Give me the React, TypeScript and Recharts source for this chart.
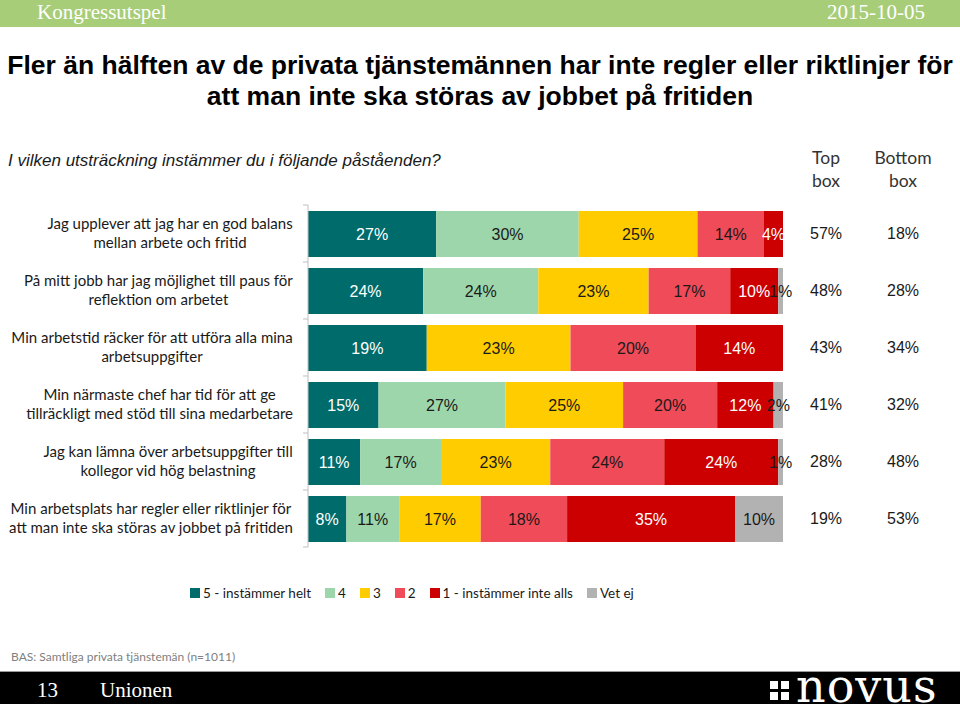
import React from "react";
import { BarChart, Bar, XAxis, YAxis, Legend, LabelList } from "recharts";

const categories = [
  ["Jag upplever att jag har en god balans", "mellan arbete och fritid"],
  ["På mitt jobb har jag möjlighet till paus för", "reflektion om arbetet"],
  ["Min arbetstid räcker för att utföra alla mina", "arbetsuppgifter"],
  ["Min närmaste chef har tid för att ge", "tillräckligt med stöd till sina medarbetare"],
  ["Jag kan lämna över arbetsuppgifter till", "kollegor vid hög belastning"],
  ["Min arbetsplats har regler eller riktlinjer för", "att man inte ska störas av jobbet på fritiden"],
];

const helt = [27, 24, 19, 15, 11, 8];
const fyra = [30, 24, 0, 27, 17, 11];
const tre = [25, 23, 23, 25, 23, 17];
const tva = [14, 17, 20, 20, 24, 18];
const inteAlls = [4, 10, 14, 12, 24, 35];
const vetEj = [0, 1, 0, 2, 1, 10];

const topBox = [57, 48, 43, 41, 28, 19];
const bottomBox = [18, 28, 34, 32, 48, 53];

const series = [
  { key: "helt", name: "5 - instämmer helt", values: helt, color: "#006B6B", text: "#ffffff" },
  { key: "fyra", name: "4", values: fyra, color: "#9DD6AB", text: "#1a1a1a" },
  { key: "tre", name: "3", values: tre, color: "#FFCC00", text: "#1a1a1a" },
  { key: "tva", name: "2", values: tva, color: "#EF4B58", text: "#1a1a1a" },
  { key: "inteAlls", name: "1 - instämmer inte alls", values: inteAlls, color: "#CC0000", text: "#ffffff" },
  { key: "vetEj", name: "Vet ej", values: vetEj, color: "#B2B2B2", text: "#1a1a1a" },
];

const data = categories.map((lines, i) => {
  const row: any = { name: lines.join(" ") };
  series.forEach((s) => (row[s.key] = s.values[i]));
  return row;
});

const CHART_W = 960;
const CHART_H = 560;
const MARGIN = { top: 205, right: 177, bottom: 13, left: 0 };
const AXIS_W = 308;
const BAND = (CHART_H - MARGIN.top - MARGIN.bottom) / categories.length;

const labelFont = "Lato, 'Open Sans', sans-serif";
const arial = "'Liberation Sans', Arial, sans-serif";

let ctx: CanvasRenderingContext2D | null = null;
function measure(text: string) {
  if (!ctx) ctx = document.createElement("canvas").getContext("2d");
  if (!ctx) return text.length * 7;
  ctx.font = "15px Lato";
  return ctx.measureText(text).width;
}

function CategoryTick(props: any) {
  const { y, payload } = props;
  const i = payload.index ?? props.index;
  const lines = categories[i];
  const maxW = Math.max(...lines.map(measure));
  const cx = AXIS_W - 15 - maxW / 2;
  return (
    <g>
      <line x1={AXIS_W - 5} x2={AXIS_W} y1={y - BAND / 2} y2={y - BAND / 2} stroke="#bfbfbf" />
      {i === categories.length - 1 && (
        <line x1={AXIS_W - 5} x2={AXIS_W} y1={y + BAND / 2} y2={y + BAND / 2} stroke="#bfbfbf" />
      )}
      <text x={cx} y={y - 9.5} dy="0.35em" textAnchor="middle" fontFamily={labelFont} fontSize={15} fill="#1a1a1a">
        {lines[0]}
      </text>
      <text x={cx} y={y + 9.5} dy="0.35em" textAnchor="middle" fontFamily={labelFont} fontSize={15} fill="#1a1a1a">
        {lines[1]}
      </text>
      <text x={826} y={y} dy="0.35em" textAnchor="middle" fontFamily={arial} fontSize={16} fill="#1a1a1a">
        {topBox[i]}%
      </text>
      <text x={903} y={y} dy="0.35em" textAnchor="middle" fontFamily={arial} fontSize={16} fill="#1a1a1a">
        {bottomBox[i]}%
      </text>
    </g>
  );
}

// value comes from the row payload through LabelList's dataKey
const renderLabel = (color: string) => (props: any) => {
  const vb = props.viewBox && props.viewBox.width !== undefined ? props.viewBox : props;
  const { x, y, width, height } = vb;
  const v = props.value;
  if (!v || typeof v !== "number") return null;
  return (
    <text
      x={x + width / 2}
      y={y + height / 2}
      dy="0.35em"
      textAnchor="middle"
      fontFamily={arial}
      fontSize={16}
      fill={color}
    >
      {v}%
    </text>
  );
};

function LegendContent({ payload }: any) {
  const order = series.map((s) => s.key);
  const items = (payload || [])
    .slice()
    .sort((a: any, b: any) => order.indexOf(a.dataKey) - order.indexOf(b.dataKey));
  return (
    <div style={{ display: "flex", alignItems: "center", fontFamily: labelFont, fontSize: 13.5, color: "#1a1a1a", whiteSpace: "nowrap" }}>
      {items.map((p: any) => (
        <span key={p.value} style={{ display: "flex", alignItems: "center", marginRight: 14 }}>
          <span style={{ width: 10, height: 10, background: p.color, marginRight: 3, display: "inline-block" }} />
          {p.value}
        </span>
      ))}
    </div>
  );
}

export default function App() {
  return (
    <div style={{ position: "absolute", left: 0, top: 0, width: 960, height: 704, overflow: "hidden", background: "#fff" }}>
      {/* header strip */}
      <div style={{ position: "absolute", left: 0, top: 0, width: 960, height: 27, background: "#A8CD78" }} />
      <div style={{ position: "absolute", left: 37, top: 0, fontFamily: "'Liberation Serif', serif", fontSize: 21, lineHeight: "24px", color: "#fff" }}>
        Kongressutspel
      </div>
      <div style={{ position: "absolute", right: 35, top: 0, fontFamily: "'Liberation Serif', serif", fontSize: 21, lineHeight: "24px", color: "#fff" }}>
        2015-10-05
      </div>

      {/* title */}
      <div style={{ position: "absolute", left: 0, top: 50, width: 960, textAlign: "center", fontFamily: arial, fontWeight: "bold", fontSize: 26.5, lineHeight: "31px", color: "#000", whiteSpace: "nowrap" }}>
        Fler än hälften av de privata tjänstemännen har inte regler eller riktlinjer för
        <br />
        att man inte ska störas av jobbet på fritiden
      </div>
      <div style={{ position: "absolute", left: 8, top: 151, fontFamily: arial, fontStyle: "italic", fontSize: 17, lineHeight: "20px", color: "#1a1a1a" }}>
        I vilken utsträckning instämmer du i följande påståenden?
      </div>
      <div style={{ position: "absolute", left: 786, top: 146, width: 80, textAlign: "center", fontFamily: labelFont, fontSize: 17.5, lineHeight: "23px", color: "#333" }}>
        Top
        <br />
        box
      </div>
      <div style={{ position: "absolute", left: 863, top: 146, width: 80, textAlign: "center", fontFamily: labelFont, fontSize: 17.5, lineHeight: "23px", color: "#333" }}>
        Bottom
        <br />
        box
      </div>

      <div style={{ position: "absolute", left: 0, top: 0 }}>
        <BarChart
          width={CHART_W}
          height={CHART_H + 60}
          data={data}
          layout="vertical"
          stackOffset="expand"
          margin={{ ...MARGIN, bottom: MARGIN.bottom + 60 }}
          barSize={46}
        >
          <XAxis type="number" hide domain={[0, 1]} />
          <YAxis
            type="category"
            dataKey="name"
            width={AXIS_W}
            tick={<CategoryTick />}
            tickLine={false}
            axisLine={{ stroke: "#bfbfbf" }}
            interval={0}
          />
          <Legend
            layout="vertical"
            align="center"
            verticalAlign="middle"
            content={<LegendContent />}
            wrapperStyle={{ position: "absolute", top: 585, left: 190, width: "auto", height: "auto" }}
          />
          {series.map((s) => (
            <Bar key={s.key} dataKey={s.key} name={s.name} stackId="a" fill={s.color} isAnimationActive={false}>
              <LabelList dataKey={s.key} content={renderLabel(s.text)} />
            </Bar>
          ))}
        </BarChart>
      </div>

      {/* footer */}
      <div style={{ position: "absolute", left: 11, top: 649, fontFamily: labelFont, fontSize: 12, lineHeight: "16px", color: "#808080" }}>
        BAS: Samtliga privata tjänstemän (n=1011)
      </div>
      <div style={{ position: "absolute", left: 0, top: 671, width: 960, height: 1, background: "#9a9a9a" }} />
      <div style={{ position: "absolute", left: 0, top: 672, width: 960, height: 32, background: "#000" }} />
      <div style={{ position: "absolute", left: 37, top: 678, fontFamily: "'Liberation Serif', serif", fontSize: 21, lineHeight: "24px", color: "#fff" }}>
        13
      </div>
      <div style={{ position: "absolute", left: 100, top: 678, fontFamily: "'Liberation Serif', serif", fontSize: 21, lineHeight: "24px", color: "#fff" }}>
        Unionen
      </div>
      <div style={{ position: "absolute", left: 770, top: 681, width: 22, height: 20 }}>
        {[0, 1].map((r) =>
          [0, 1].map((c) => (
            <div key={`${r}-${c}`} style={{ position: "absolute", left: c * 11, top: r * 11, width: 8, height: 8, background: "#fff" }} />
          ))
        )}
      </div>
      <div style={{ position: "absolute", left: 796, top: 671, height: 30, fontFamily: "'DejaVu Serif', serif", fontSize: 46, lineHeight: "30px", color: "#fff", letterSpacing: 1 }}>
        novus
      </div>
    </div>
  );
}
